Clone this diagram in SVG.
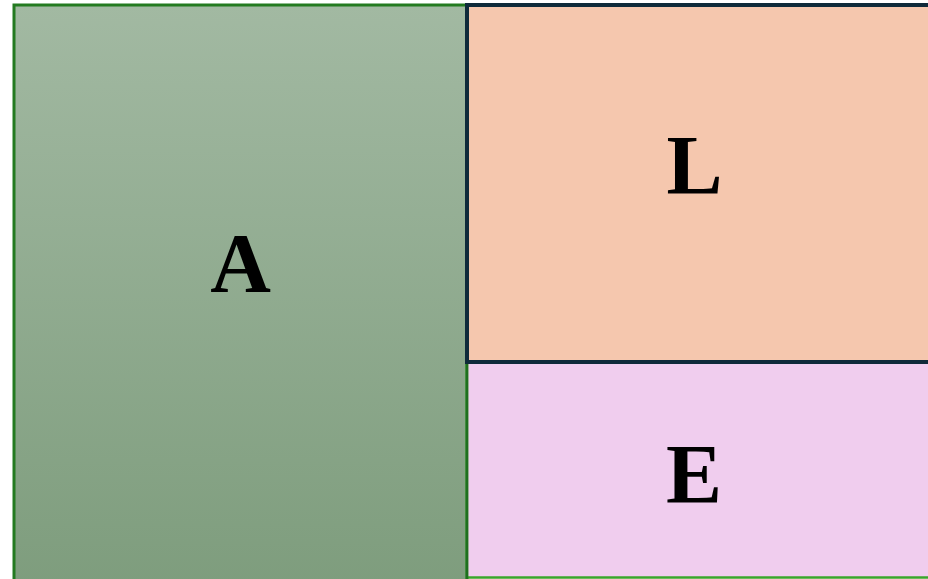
<svg xmlns="http://www.w3.org/2000/svg" width="928" height="579" viewBox="0 0 928 579">
<style>
.lbl{font-family:"Liberation Serif","Times New Roman",serif;font-weight:bold;font-size:84px;fill:#000;text-anchor:middle}
</style>
<defs>
<linearGradient id="gA" x1="0" y1="0" x2="0" y2="1">
<stop offset="0" stop-color="#a2b9a2"/>
<stop offset="1" stop-color="#7d9c7c"/>
</linearGradient>
</defs>
<rect width="928" height="579" fill="#ffffff"/>
<g id="A">
<rect x="14" y="5" width="453" height="600" fill="url(#gA)" stroke="#237a20" stroke-width="3"/>
<text class="lbl" x="240.5" y="292">A</text>
</g>
<g id="E">
<rect x="467" y="362" width="480" height="215.5" fill="#f0cdee" stroke="#3aa52a" stroke-width="2.5"/>
<line x1="467" y1="362" x2="467" y2="579" stroke="#1f6f1f" stroke-width="2.5"/>
<text class="lbl" x="694" y="503">E</text>
</g>
<g id="L">
<rect x="467" y="5" width="480" height="357" fill="#f5c7ae" stroke="#0f2a3a" stroke-width="4"/>
<text class="lbl" x="694.5" y="194">L</text>
</g>
<g id="connectors"></g>
</svg>
